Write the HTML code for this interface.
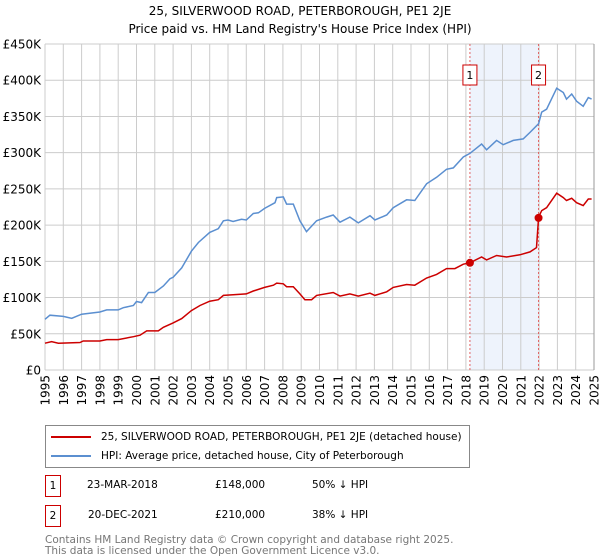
<!DOCTYPE html>
<html><head><meta charset="utf-8"><style>
body{margin:0;background:#fff;font-family:"Liberation Sans","DejaVu Sans",sans-serif;}
#wrap{position:relative;width:600px;height:560px;overflow:hidden;}
svg text{font-family:"DejaVu Sans","Liberation Sans",sans-serif;}
</style></head><body>
<div id="wrap">
<svg id="chart" width="600" height="560">
<text x="300" y="15" text-anchor="middle" font-size="12" fill="#000">25, SILVERWOOD ROAD, PETERBOROUGH, PE1 2JE</text>
<text x="300" y="33" text-anchor="middle" font-size="12" fill="#000">Price paid vs. HM Land Registry's House Price Index (HPI)</text>
<g id="grid"></g><g id="marks"></g>
</svg>
<div style="position:absolute;left:45px;top:425px;width:425px;height:43px;border:1px solid #888;box-sizing:border-box;font:10.5px 'DejaVu Sans','Liberation Sans',sans-serif;">
 <div style="position:absolute;left:5px;top:5px;white-space:nowrap;"><span style="display:inline-block;width:40px;height:2px;background:#cc0000;vertical-align:middle;margin-right:10px"></span>25, SILVERWOOD ROAD, PETERBOROUGH, PE1 2JE (detached house)</div>
 <div style="position:absolute;left:5px;top:24px;white-space:nowrap;"><span style="display:inline-block;width:40px;height:2px;background:#5b8fd0;vertical-align:middle;margin-right:10px"></span>HPI: Average price, detached house, City of Peterborough</div>
</div>
<div style="font:10.5px 'DejaVu Sans','Liberation Sans',sans-serif;">
 <div style="position:absolute;left:45px;top:475px;width:14px;height:20px;border:1px solid #cc0000;text-align:center;line-height:20px">1</div>
 <div style="position:absolute;left:87px;top:479px">23-MAR-2018</div>
 <div style="position:absolute;left:215px;top:479px">£148,000</div>
 <div style="position:absolute;left:312px;top:479px">50% ↓ HPI</div>
 <div style="position:absolute;left:45px;top:505px;width:14px;height:20px;border:1px solid #cc0000;text-align:center;line-height:20px">2</div>
 <div style="position:absolute;left:88px;top:509px">20-DEC-2021</div>
 <div style="position:absolute;left:215px;top:509px">£210,000</div>
 <div style="position:absolute;left:312px;top:509px">38% ↓ HPI</div>
</div>
<div style="position:absolute;left:45px;top:535px;font:10.5px 'DejaVu Sans','Liberation Sans',sans-serif;color:#777;line-height:11px">Contains HM Land Registry data © Crown copyright and database right 2025.<br>This data is licensed under the Open Government Licence v3.0.</div>
</div>
<script>
const yTicks=[0,50,100,150,200,250,300,350,400,450];
const yTickLabels=["£0","£50K","£100K","£150K","£200K","£250K","£300K","£350K","£400K","£450K"];
const xTicks=[1995,1996,1997,1998,1999,2000,2001,2002,2003,2004,2005,2006,2007,2008,2009,2010,2011,2012,2013,2014,2015,2016,2017,2018,2019,2020,2021,2022,2023,2024,2025];
const hpiYears=[1995.0,1995.27,1996.0,1996.46,1997.0,1998.0,1998.37,1999.0,1999.28,1999.83,2000.0,2000.28,2000.65,2001.0,2001.47,2001.83,2002.0,2002.47,2003.0,2003.38,2004.0,2004.47,2004.75,2005.0,2005.28,2005.74,2006.0,2006.38,2006.66,2007.0,2007.57,2007.66,2008.02,2008.2,2008.57,2008.93,2009.29,2009.84,2010.39,2010.75,2011.12,2011.66,2012.12,2012.76,2013.03,2013.67,2014.03,2014.76,2015.21,2015.85,2016.4,2016.94,2017.31,2017.86,2018.22,2018.86,2019.13,2019.68,2020.04,2020.59,2021.13,2021.5,2021.97,2022.14,2022.41,2022.96,2023.32,2023.5,2023.78,2024.05,2024.41,2024.69,2024.87];
const hpiValues=[70,75.6,74,71.4,77,80,83,83,86,89,94.5,93,107,107,116,126,128,141,164,176,190,195,206,207,205,208,207,216,217,223,231,238,239,229,229,206,191,206,211,214,204,211,203,213,207,214,224,235,234,257,266,277,279,294,299,312,304,317,311,317,319,328,340,356,360,389,383,374,381,371,364,376,374];
const priceYears=[1995.0,1995.36,1995.73,1996.91,1997.09,1998.0,1998.37,1999.0,1999.83,2000.19,2000.56,2001.19,2001.47,2002.0,2002.47,2003.0,2003.47,2004.0,2004.47,2004.75,2005.28,2006.0,2006.38,2007.0,2007.48,2007.66,2008.02,2008.2,2008.57,2008.93,2009.2,2009.57,2009.84,2010.75,2011.12,2011.66,2012.12,2012.76,2013.03,2013.67,2014.03,2014.76,2015.21,2015.85,2016.4,2016.94,2017.4,2017.86,2018.22,2018.86,2019.13,2019.68,2020.22,2020.95,2021.5,2021.86,2021.97,2022.14,2022.41,2022.96,2023.32,2023.5,2023.78,2024.05,2024.41,2024.69,2024.87];
const priceValues=[37,39,37,38,40,40,42,42,46,48,54,54,59,65,71,82,89,95,97,103,104,105,109,114,117,120,119,115,115,105,97,97,103,107,102,105,102,106,103,108,114,118,117,127,132,140,140,146,148,156,152,158,156,159,163,169,211,220,224,244,238,234,237,231,227,236,236];
const saleYears=[2018.22,2021.97];
const saleValues=[148,210];
const saleLabels=["1","2"];

const NS="http://www.w3.org/2000/svg";
const L=45,R=594,T=44,B=370;
const xS=y=>L+(y-1995)/30*(R-L);
const yS=v=>B-v/450*(B-T);
function mk(tag,attrs,parent){const e=document.createElementNS(NS,tag);for(const k in attrs)e.setAttribute(k,attrs[k]);parent.appendChild(e);return e;}
const grid=document.getElementById('grid'),marks=document.getElementById('marks');
const sh=mk('rect',{x:xS(saleYears[0]),y:T,width:xS(saleYears[1])-xS(saleYears[0]),height:B-T,fill:'#eef3fc'},grid);


yTicks.forEach((v,i)=>{
 const ln=mk('line',{x1:L,x2:R,y1:yS(v),y2:yS(v),stroke:'#cccccc','stroke-width':1},grid);
 
 
 const t=mk('text',{x:L-4,y:yS(v)+4.5,'text-anchor':'end','font-size':12,fill:'#000'},grid);
 t.textContent=yTickLabels[i];
 
 
});
xTicks.forEach(yr=>{
 const ln=mk('line',{x1:xS(yr),x2:xS(yr),y1:T,y2:B,stroke:'#cccccc','stroke-width':1},grid);
 
 
 const t=mk('text',{x:0,y:0,'text-anchor':'end','font-size':12,fill:'#000',transform:`translate(${xS(yr)+4.5},375) rotate(-90)`},grid);
 t.textContent=yr;
 
 
});
const rb=mk('line',{x1:R,x2:R,y1:T,y2:B,stroke:'#999','stroke-width':1},grid);


saleYears.forEach((yr,i)=>{
 const ln=mk('line',{x1:xS(yr),x2:xS(yr),y1:T,y2:B,stroke:'#e06060','stroke-width':1,'stroke-dasharray':'2,2'},marks);
 
 
 const bx=mk('rect',{x:xS(yr)-7,y:65,width:14,height:20,fill:'#fff',stroke:'#cc0000','stroke-width':1},marks);
 
 
 const t=mk('text',{x:xS(yr),y:79,'text-anchor':'middle','font-size':11,fill:'#000'},marks);
 t.textContent=saleLabels[i];
 
 
});
function path(xs,vs){return xs.map((x,i)=>(i?'L':'M')+xS(x).toFixed(1)+','+yS(vs[i]).toFixed(1)).join('');}
const hp=mk('path',{d:path(hpiYears,hpiValues),fill:'none',stroke:'#5b8fd0','stroke-width':1.5},marks);


const pp=mk('path',{d:path(priceYears,priceValues),fill:'none',stroke:'#cc0000','stroke-width':1.5},marks);


saleYears.forEach((yr,i)=>{
 const c=mk('circle',{cx:xS(yr),cy:yS(saleValues[i]),r:4,fill:'#cc0000'},marks);
 
 
});
</script>
</body></html>
